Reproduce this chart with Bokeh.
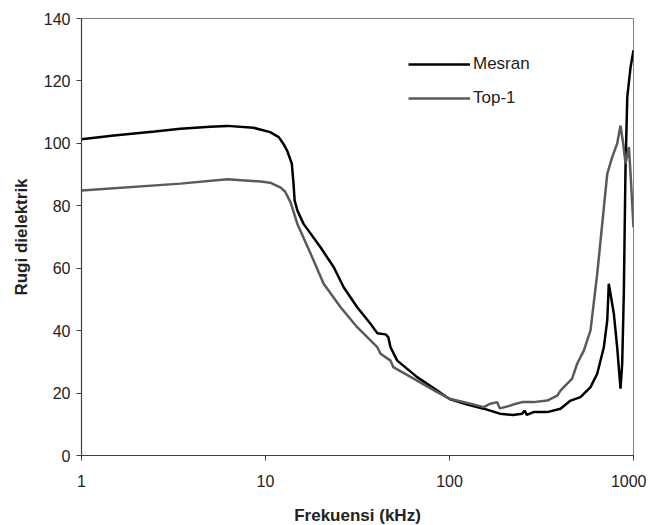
from bokeh.plotting import figure
from bokeh.models import Range1d, FixedTicker, Legend, LegendItem
from bokeh.embed import file_html
from bokeh.resources import INLINE

# Mesran (black)
mesran_f = [1, 1.5, 2.5, 3.45, 5, 6.2, 8.6, 10.6, 11.8, 12.5, 13.1, 13.9, 14.2, 14.4, 14.9, 16.1,
            19.9, 23.5, 26.6, 31.5, 37.2, 40.5, 44.9, 46.5, 47.8, 52, 66.7, 85.7, 100,
            125, 153.6, 187.6, 221, 248, 256, 263, 286, 340, 401, 455, 515, 584, 635,
            690, 720, 734, 782, 815, 850, 868, 886, 905, 925, 964, 1000]
mesran_v = [101.3, 102.5, 103.8, 104.7, 105.3, 105.6, 105.0, 103.6, 102.0, 99.9, 97.7, 93.5, 87.1, 81.7, 78.5, 74.2,
            66.7, 60.3, 53.9, 47.5, 42.2, 39.2, 38.8, 37.9, 34.7, 30.4, 25.1, 20.8, 18.1,
            16.3, 15.0, 13.4, 13.0, 13.4, 14.4, 13.0, 13.9, 13.9, 15.0, 17.6, 18.7, 21.9, 26.2,
            34.7, 43.3, 55.0, 45.4, 34.7, 21.4, 29.4, 52, 92.4, 114.8, 124.4, 129.8]

# Top-1 (grey)
top1_f = [1, 3.45, 6.2, 9.4, 10.6, 12.1, 12.8, 13.7, 14.9, 17.6, 20.7, 25.6, 31.5, 40.5, 42.2, 47.8,
          49.5, 66.7, 85.7, 100, 125, 153.6, 165, 181.6, 187.6, 214.6, 230, 248, 286, 340, 385, 401,
          418, 464, 494, 537, 584, 635, 720, 766, 815, 850, 879, 905, 944, 964, 1000]
top1_v = [84.9, 87.1, 88.5, 87.8, 87.4, 85.8, 84.5, 81.0, 74.2, 64.6, 55.0, 47.5, 41.1, 34.7, 32.6, 30.4,
          28.3, 24.0, 20.3, 18.2, 16.8, 15.5, 16.5, 17.1, 15.1, 16.0, 16.6, 17.1, 17.1, 17.6, 19.2, 20.8,
          21.9, 24.6, 29.4, 33.6, 40.1, 58.2, 90.2, 95.6, 99.9, 105.7, 99.9, 93.5, 98.8, 90.2, 73.1]

x_ticks = [1, 10, 100, 1000]
x_tick_labels = ["1", "10", "100", "1000"]
y_ticks = [0, 20, 40, 60, 80, 100, 120, 140]

FONT = "Liberation Sans"

p = figure(x_axis_type="log", x_range=Range1d(1, 1000), y_range=Range1d(0, 140),
           frame_width=552, frame_height=437,
           min_border_left=81, min_border_right=13, min_border_top=18, min_border_bottom=62,
           output_backend="svg", toolbar_location=None,
           background_fill_color="white", border_fill_color="white")

p.xgrid.visible = False
p.ygrid.visible = False
p.outline_line_color = "#808080"
p.outline_line_width = 1

r1 = p.line(mesran_f, mesran_v, line_color="black", line_width=2.5)
r2 = p.line(top1_f, top1_v, line_color="#5a5a5a", line_width=2.5)

for ax in (p.xaxis[0], p.yaxis[0]):
    ax.axis_line_color = "#404040"
    ax.axis_line_width = 1.2
    ax.major_tick_line_color = "#404040"
    ax.major_tick_out = 5
    ax.major_tick_in = 0
    ax.minor_tick_out = 0
    ax.minor_tick_in = 0
    ax.major_label_text_font = FONT
    ax.major_label_text_font_size = "16px"
    ax.major_label_text_color = "#222222"
    ax.axis_label_text_font = FONT
    ax.axis_label_text_font_size = "17px"
    ax.axis_label_text_font_style = "bold"
    ax.axis_label_text_color = "#222222"

p.xaxis[0].ticker = FixedTicker(ticks=x_ticks)
p.xaxis[0].major_label_overrides = {t: l for t, l in zip(x_ticks, x_tick_labels)}
p.xaxis[0].major_label_standoff = 14
p.xaxis[0].axis_label = "Frekuensi (kHz)"
p.xaxis[0].axis_label_standoff = 16

p.yaxis[0].ticker = FixedTicker(ticks=y_ticks)
p.yaxis[0].major_label_standoff = 6
p.yaxis[0].axis_label = "Rugi dielektrik"
p.yaxis[0].axis_label_standoff = 10

legend = Legend(items=[LegendItem(label="Mesran", renderers=[r1]),
                       LegendItem(label="Top-1", renderers=[r2])],
                location=(327, 347), orientation="vertical",
                glyph_width=62, glyph_height=20, label_height=20, spacing=14,
                padding=0, margin=0, label_standoff=3,
                border_line_color=None, background_fill_alpha=0,
                label_text_font=FONT, label_text_font_size="17px",
                label_text_color="#222222")
p.add_layout(legend)

open("out.html", "w").write(file_html(p, INLINE))
